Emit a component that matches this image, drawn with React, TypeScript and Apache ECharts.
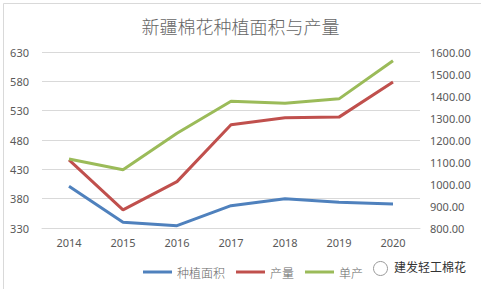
import React, { useEffect, useRef } from "react";
import * as echarts from "echarts";

const years = ["2014", "2015", "2016", "2017", "2018", "2019", "2020"];
const plantingArea = [401, 340, 334, 368, 380, 374, 371];
const output = [446, 361, 409, 506, 518, 519, 579];
const yieldPerUnit = [1114, 1065, 1231, 1376, 1367, 1387, 1560];

const FONT = "'Noto Sans', 'Noto Sans CJK SC', sans-serif";
const CJK = "'Noto Sans CJK SC', sans-serif";
const GRAY = "#595959";

export default function App() {
  const ref = useRef<HTMLDivElement>(null);

  useEffect(() => {
    if (!ref.current) return;
    const chart = echarts.init(ref.current, undefined, { renderer: "svg" });
    chart.setOption({
      animation: false,
      backgroundColor: "#ffffff",
      title: {
        text: "新疆棉花种植面积与产量",
        left: "center",
        top: 12,
        textStyle: {
          fontFamily: CJK,
          fontSize: 18,
          fontWeight: 300,
          color: "#666666",
        },
      },
      grid: { left: 42, right: 61, top: 52, bottom: 61 },
      legend: {
        left: 138,
        top: 261,
        icon: "rect",
        itemWidth: 29,
        itemHeight: 3,
        itemGap: 11,
        textStyle: { fontFamily: CJK, fontSize: 12, fontWeight: 300, color: "#666666" },
        data: ["种植面积", "产量", "单产"],
      },
      xAxis: {
        type: "category",
        data: years,
        boundaryGap: true,
        axisLine: { lineStyle: { color: "#D9D9D9" } },
        axisTick: { show: false },
        axisLabel: { color: GRAY, fontFamily: FONT, fontSize: 11, margin: 9 },
      },
      yAxis: [
        {
          type: "value",
          min: 330,
          max: 630,
          interval: 50,
          axisLine: { show: false },
          axisTick: { show: false },
          axisLabel: { color: GRAY, fontFamily: FONT, fontSize: 11, margin: 13 },
          splitLine: { lineStyle: { color: "#D9D9D9", width: 1 } },
        },
        {
          type: "value",
          min: 800,
          max: 1600,
          interval: 100,
          axisLine: { show: false },
          axisTick: { show: false },
          axisLabel: {
            color: GRAY,
            fontFamily: FONT,
            fontSize: 11,
            margin: 10,
            formatter: (v: number) => v.toFixed(2),
          },
          splitLine: { show: false },
        },
      ],
      series: [
        {
          name: "种植面积",
          type: "line",
          data: plantingArea,
          yAxisIndex: 0,
          showSymbol: false,
          symbol: "none",
          lineStyle: { width: 3, color: "#4F81BD" },
          itemStyle: { color: "#4F81BD" },
        },
        {
          name: "产量",
          type: "line",
          data: output,
          yAxisIndex: 0,
          showSymbol: false,
          symbol: "none",
          lineStyle: { width: 3, color: "#C0504D" },
          itemStyle: { color: "#C0504D" },
        },
        {
          name: "单产",
          type: "line",
          data: yieldPerUnit,
          yAxisIndex: 1,
          showSymbol: false,
          symbol: "none",
          lineStyle: { width: 3, color: "#9BBB59" },
          itemStyle: { color: "#9BBB59" },
        },
      ],
      graphic: [
        {
          type: "rect",
          left: 1,
          top: 1,
          shape: { width: 478, height: 286 },
          style: { fill: "none", stroke: "#D9D9D9", lineWidth: 1 },
          silent: true,
        },
        {
          type: "circle",
          left: 371,
          top: 259,
          shape: { r: 7 },
          style: { fill: "none", stroke: "#9a9a9a", lineWidth: 1 },
        },
        {
          type: "text",
          left: 394,
          top: 260,
          style: {
            text: "建发轻工棉花",
            fontFamily: CJK,
            fontSize: 12,
            fill: "#333333",
          },
        },
      ],
    });
    return () => chart.dispose();
  }, []);

  return (
    <div
      ref={ref}
      style={{ position: "fixed", left: 0, top: 0, width: 481, height: 289 }}
    />
  );
}
